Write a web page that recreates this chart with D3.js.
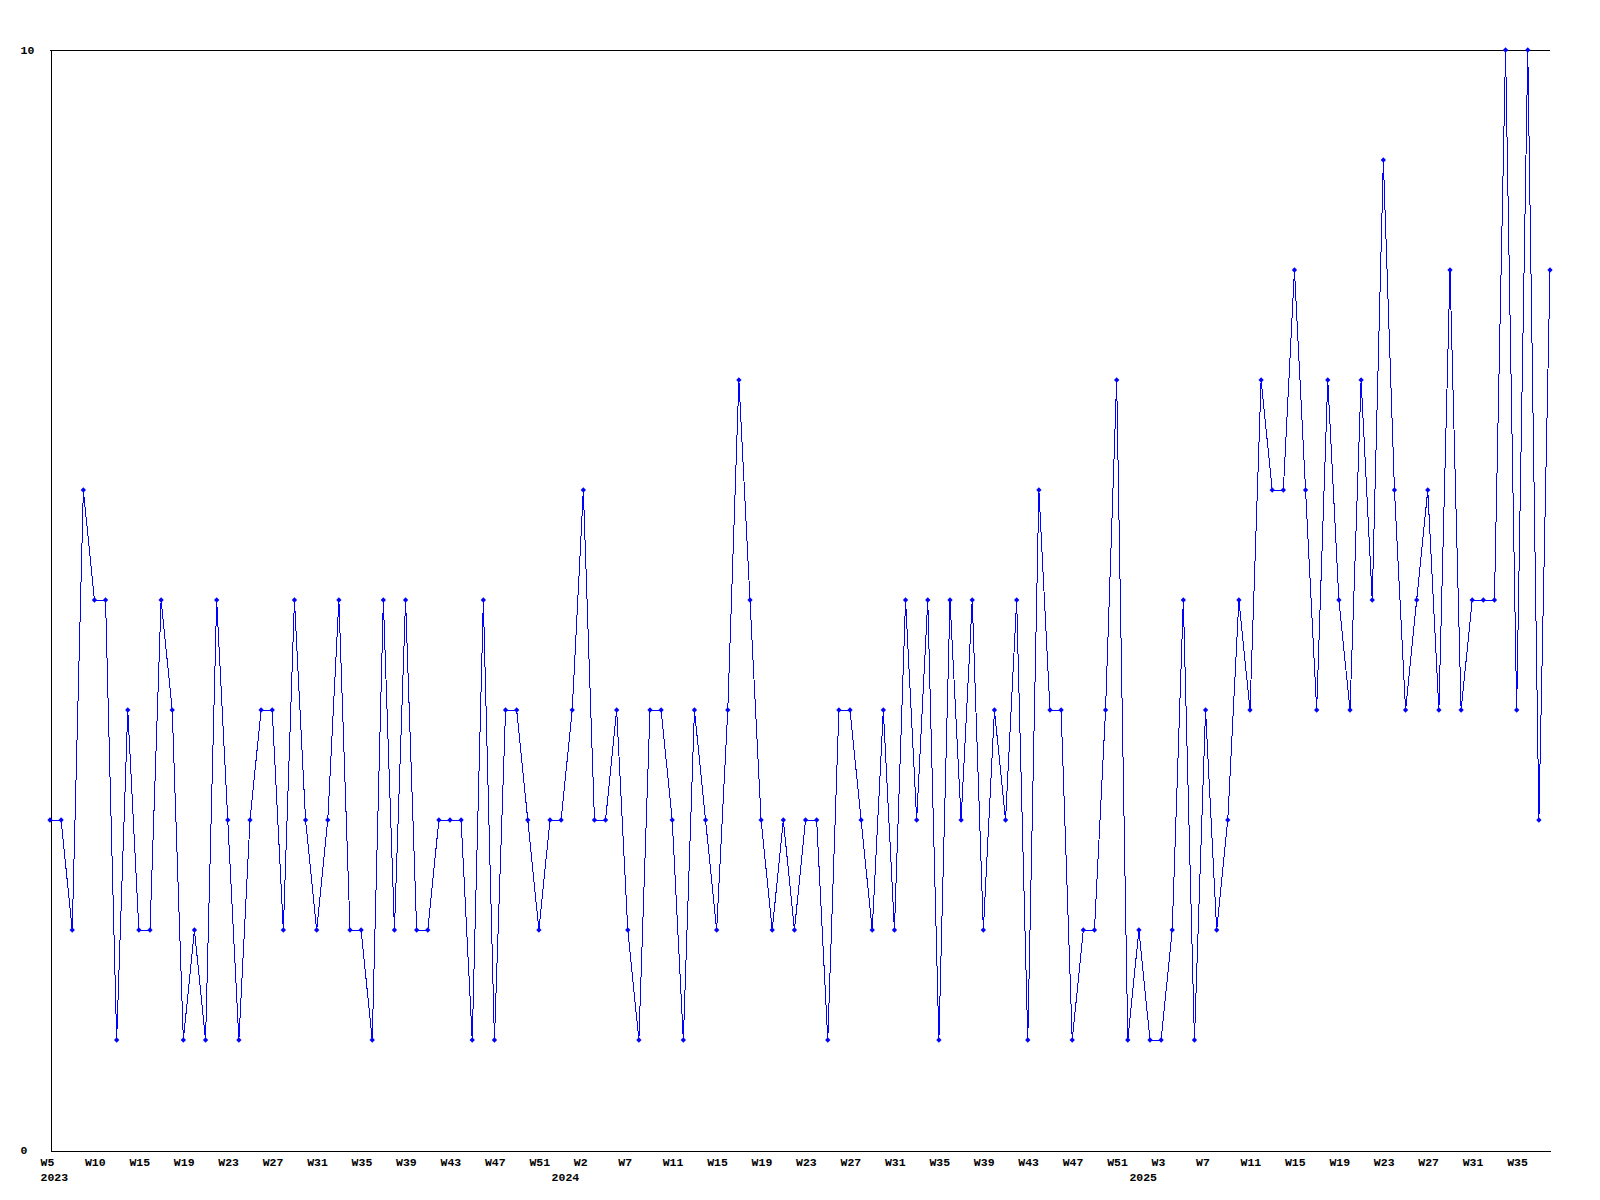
<!DOCTYPE html>
<html>
<head>
<meta charset="utf-8">
<script src="https://cdn.jsdelivr.net/npm/d3@7"></script>
<style>
  html, body { margin: 0; padding: 0; background: #fff; }
  svg text { font-family: "Liberation Mono", "DejaVu Sans Mono", monospace; font-weight: bold; font-size: 11.5px; fill: #000; }
</style>
</head>
<body>
<div id="chart"></div>
<script>
// weekly values, one per point
let values = [
    3, 3, 2, 6, 5, 5, 1, 4, 2, 2, 5, 4, 1, 2, 1, 5, 3, 1, 3, 4,
    4, 2, 5, 3, 2, 3, 5, 2, 2, 1, 5, 2, 5, 2, 2, 3, 3, 3, 1, 5,
    1, 4, 4, 3, 2, 3, 3, 4, 6, 3, 3, 4, 2, 1, 4, 4, 3, 1, 4, 3,
    2, 4, 7, 5, 3, 2, 3, 2, 3, 3, 1, 4, 4, 3, 2, 4, 2, 5, 3, 5,
    1, 5, 3, 5, 2, 4, 3, 5, 1, 6, 4, 4, 1, 2, 2, 4, 7, 1, 2, 1,
    1, 2, 5, 1, 4, 2, 3, 5, 4, 7, 6, 6, 8, 6, 4, 7, 5, 4, 7, 5,
    9, 6, 4, 5, 6, 4, 8, 4, 5, 5, 5, 10, 4, 10, 3, 8
];

// a label every 4th point
let weekLabels = ["W5", "W10", "W15", "W19", "W23", "W27", "W31", "W35", "W39", "W43", "W47", "W51",
    "W2", "W7", "W11", "W15", "W19", "W23", "W27", "W31", "W35", "W39", "W43", "W47", "W51",
    "W3", "W7", "W11", "W15", "W19", "W23", "W27", "W31", "W35"];
let labelStep = 4;

// first point of each year
let yearStarts = [0, 46, 98];
let yearLabels = ["2023", "2024", "2025"];

let yTicks = [0, 10];

let width = 1600, height = 1200;
let margin = {top: 50, right: 50, bottom: 50, left: 50};

let svg = d3.select("#chart")
    .append("svg")
    .attr("width", width)
    .attr("height", height);

let x = d3.scaleLinear()
    .domain([0, values.length - 1])
    .range([margin.left, width - margin.right]);

let y = d3.scaleLinear()
    .domain([0, 10])
    .range([height - margin.bottom, margin.top]);

// top line at the max value
svg.append("line")
    .attr("x1", x(0)).attr("x2", x(values.length - 1))
    .attr("y1", y(10) + 0.5).attr("y2", y(10) + 0.5)
    .attr("stroke", "#000")
    .attr("shape-rendering", "crispEdges");

let tickIdx = weekLabels.map(function(d, i) { return i * labelStep; });

let xAxis = svg.append("g")
    .attr("transform", `translate(0, ${y(0) + 0.5})`)
    .call(d3.axisBottom(x)
        .tickValues(tickIdx)
        .tickFormat(function(d) { return weekLabels[d / labelStep]; })
        .tickSize(0)
        .tickSizeOuter(0));
xAxis.select(".domain").attr("shape-rendering", "crispEdges");
xAxis.selectAll("text")
    .attr("text-anchor", "start")
    .attr("x", -10)
    .attr("y", 15)
    .attr("dy", 0);
xAxis.attr("font-family", null).attr("font-size", null);

let years = svg.append("g")
    .attr("transform", `translate(0, ${y(0) + 0.5})`)
    .call(d3.axisBottom(x)
        .tickValues(yearStarts)
        .tickFormat(function(d) { return yearLabels[yearStarts.indexOf(d)]; })
        .tickSize(0)
        .tickSizeOuter(0));
years.select(".domain").remove();
years.selectAll("text")
    .attr("text-anchor", "start")
    .attr("x", -10)
    .attr("y", 30)
    .attr("dy", 0);
years.attr("font-family", null).attr("font-size", null);

let yAxis = svg.append("g")
    .attr("transform", `translate(${x(0) + 0.5}, 0)`)
    .call(d3.axisLeft(y)
        .tickValues(yTicks)
        .tickSize(0)
        .tickSizeOuter(0));
yAxis.select(".domain").attr("shape-rendering", "crispEdges");
yAxis.selectAll("text")
    .attr("text-anchor", "start")
    .attr("x", -30)
    .attr("dy", "0.32em");
yAxis.attr("font-family", null).attr("font-size", null);

let line = d3.line()
    .x(function(d, i) { return x(i); })
    .y(function(d) { return y(d); });

svg.append("path")
    .datum(values)
    .attr("d", line)
    .attr("fill", "none")
    .attr("stroke", "#0000ff")
    .attr("stroke-width", 1)
    .attr("shape-rendering", "crispEdges");

let marker = d3.symbol().type(d3.symbolSquare).size(14);

svg.append("g")
    .selectAll("path")
    .data(values)
    .enter()
    .append("path")
    .attr("d", marker)
    .attr("transform", function(d, i) { return `translate(${x(i)}, ${y(d)}) rotate(45)`; })
    .attr("fill", "#0000ff");
</script>
</body>
</html>
